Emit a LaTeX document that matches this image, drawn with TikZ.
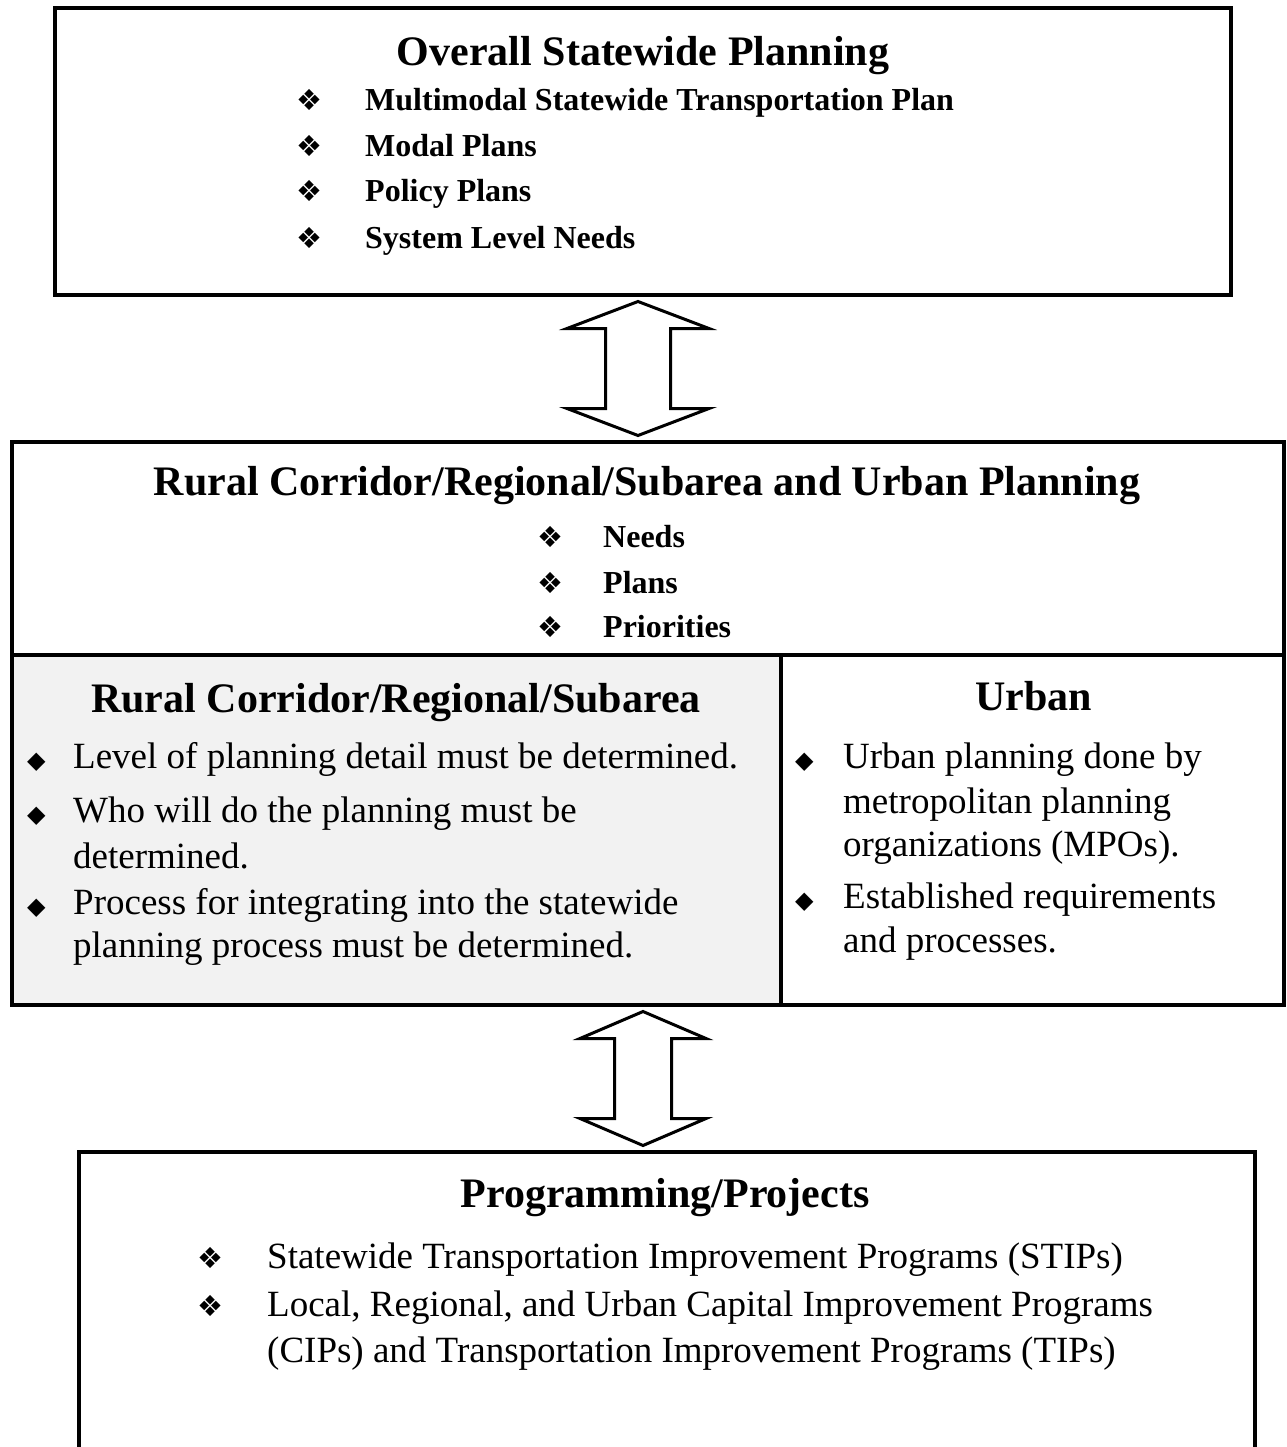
\documentclass[tikz,border=0pt]{standalone}
\usepackage{fontspec}
\setmainfont{Liberation Serif}
\newfontfamily\dingfont{DejaVu Sans}
\usetikzlibrary{calc}

\definecolor{cellgray}{HTML}{F2F2F2}

\newcommand{\ttlfont}{\fontsize{42}{50}\selectfont\bfseries}
\newcommand{\lstfont}{\fontsize{32}{38}\selectfont\bfseries}
\newcommand{\bdyfont}{\fontsize{37}{44}\selectfont}
\newcommand{\fourdiam}{{\dingfont\fontsize{29}{29}\selectfont ❖}}
\newcommand{\smalldiam}{{\dingfont\fontsize{24}{24}\selectfont ◆}}

\tikzset{
  box/.style={draw, line width=4pt, inner sep=0pt, outer sep=0pt},
  ttl/.style={inner sep=0pt, anchor=base, font=\ttlfont},
  lst/.style={inner sep=0pt, anchor=base west, font=\lstfont},
  bdy/.style={inner sep=0pt, anchor=base west, font=\bdyfont},
  dot/.style={inner sep=0pt, anchor=base west},
  pics/dblarrow/.style n args={2}{code={
    \draw[line width=3pt, line join=miter, fill=white]
      (0,-67) -- (#1,-40) -- (#2,-40) -- (#2,40) -- (#1,40) -- (0,67)
      -- (-#1,40) -- (-#2,40) -- (-#2,-40) -- (-#1,-40) -- cycle;
  }}
}

\begin{document}
\begin{tikzpicture}[x=1pt, y=-1pt]
\useasboundingbox (0,0) rectangle (1286,1447);

% boxes
\node[box, minimum width=1176pt, minimum height=286.5pt] (overall) at (643,151.75) {};
\node[box, minimum width=1272pt, minimum height=212.5pt] (corridor) at (648,548.25) {};
\node[box, fill=cellgray, minimum width=768.5pt, minimum height=350.5pt] (rural) at (396.25,829.75) {};
\node[box, minimum width=503.5pt, minimum height=350.5pt] (urban) at (1032.25,829.75) {};
\node[box, minimum width=1176pt, minimum height=340pt] (prog) at (667,1322) {};

% arrows between the levels
\coordinate (a1) at ($(overall.south)!0.5!(overall.south |- corridor.north)+(-5,0)$);
\coordinate (a2) at ($(overall.south |- rural.south)!0.5!(overall.south |- prog.north)$);
\pic at (a1) {dblarrow={71}{32.5}};
\pic at (a2) {dblarrow={63}{28.5}};

% overall statewide planning
\node[ttl] (ovtitle) at (643,66) {Overall Statewide Planning};
\node[dot] (ovb1) at (296,111) {\fourdiam};
\node[dot] (ovb2) at (296,157) {\fourdiam};
\node[dot] (ovb3) at (296,202) {\fourdiam};
\node[dot] (ovb4) at (296,248) {\fourdiam};
\node[lst] (ov1) at (365,111) {Multimodal Statewide Transportation Plan};
\node[lst] (ov2) at (365,157) {Modal Plans};
\node[lst] (ov3) at (365,202) {Policy Plans};
\node[lst] (ov4) at (365,248) {System Level Needs};

% corridor / urban header
\node[ttl] (cutitle) at (647,495) {Rural Corridor/Regional/Subarea and Urban Planning};
\node[dot] (cub1) at (537,547) {\fourdiam};
\node[dot] (cub2) at (537,593) {\fourdiam};
\node[dot] (cub3) at (537,637) {\fourdiam};
\node[lst] (cu1) at (603,547) {Needs};
\node[lst] (cu2) at (603,593) {Plans};
\node[lst] (cu3) at (603,637) {Priorities};

% rural cell
\node[ttl] (rutitle) at (396,712) {Rural Corridor/Regional/Subarea};
\node[dot] (rub1) at (27,768) {\smalldiam};
\node[dot] (rub2) at (27,822) {\smalldiam};
\node[dot] (rub3) at (27,914) {\smalldiam};
\node[bdy] (ru1) at (73,768) {Level of planning detail must be determined.};
\node[bdy] (ru2) at (73,822) {Who will do the planning must be};
\node[bdy] (ru3) at (73,868) {determined.};
\node[bdy] (ru4) at (73,914) {Process for integrating into the statewide};
\node[bdy] (ru5) at (73,957) {planning process must be determined.};

% urban cell
\node[ttl] (urtitle) at (1034,710) {Urban};
\node[dot] (urb1) at (795,768) {\smalldiam};
\node[dot] (urb2) at (795,908) {\smalldiam};
\node[bdy] (ur1) at (843,768) {Urban planning done by};
\node[bdy] (ur2) at (843,813) {metropolitan planning};
\node[bdy] (ur3) at (843,856) {organizations (MPOs).};
\node[bdy] (ur4) at (843,908) {Established requirements};
\node[bdy] (ur5) at (843,952) {and processes.};

% programming / projects
\node[ttl] (prtitle) at (665,1207) {Programming/Projects};
\node[dot] (prb1) at (197,1268) {\fourdiam};
\node[dot] (prb2) at (197,1316) {\fourdiam};
\node[bdy] (pr1) at (267,1268) {Statewide Transportation Improvement Programs (STIPs)};
\node[bdy] (pr2) at (267,1316) {Local, Regional, and Urban Capital Improvement Programs};
\node[bdy] (pr3) at (267,1362) {(CIPs) and Transportation Improvement Programs (TIPs)};
\end{tikzpicture}
\end{document}
